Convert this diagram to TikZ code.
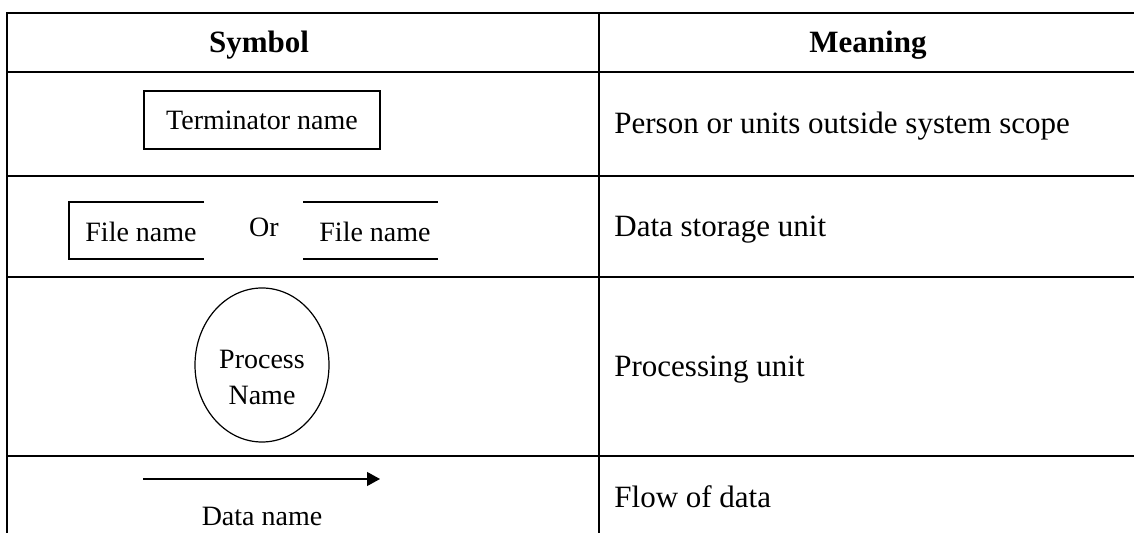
\documentclass[tikz,border=0pt]{standalone}
\usepackage{fontspec}
\setmainfont{Liberation Serif}
\usetikzlibrary{arrows.meta,shapes.geometric,positioning}

\begin{document}
\begin{tikzpicture}[
    x=0.5pt, y=-0.5pt,
    font=\fontsize{14}{18}\selectfont,
    rule/.style={line width=1pt},
    symline/.style={line width=0.6pt},
    headtext/.style={font=\fontsize{15.5}{18}\selectfont\bfseries, anchor=base},
    celltext/.style={font=\fontsize{15.5}{18}\selectfont, anchor=base west, inner sep=0pt},
    symtext/.style={anchor=base, inner sep=0pt}]
    \useasboundingbox (0,0) rectangle (1134,533);
    % TABLE LINES
    \foreach \y in {13,72,176,277,456}
        \draw[rule] (6.5,\y) -- (1134,\y);
    \draw[rule] (7,12.5) -- (7,533);
    \draw[rule] (599,12.5) -- (599,533);

    % HEADER
    \node[headtext] (sym) at (259,53) {Symbol};
    \node[headtext] (mean) at (868,53) {Meaning};

    % ROW 1: terminator
    \node[draw, symline, minimum width=118pt, minimum height=29pt] (term) at (262,120) {Terminator name};
    \node[celltext] (m1) at (614,134) {Person or units outside system scope};

    % ROW 2: file store
    \node[symtext] (file1) at (141,242) {File name};
    \draw[symline] (204,202) -| (69,259) -- (204,259);
    \node[symtext] (or) at (264,237) {Or};
    \node[symtext] (file2) at (375,242) {File name};
    \draw[symline] (303,202) -- (438,202);
    \draw[symline] (303,259) -- (438,259);
    \node[celltext] (m2) at (614,237) {Data storage unit};

    % ROW 3: process
    \node[draw, symline, ellipse, minimum width=67pt, minimum height=77pt, inner sep=0pt] (proc) at (262,365) {};
    \node[align=center, inner sep=0pt] (pname) at (262,377) {Process\\Name};
    \node[celltext] (m3) at (614,377) {Processing unit};

    % ROW 4: data flow
    \coordinate (flowa) at (143,479);
    \coordinate (flowb) at (380,479);
    \draw[symline, -{Triangle[length=6.5pt,width=7pt]}] (flowa) -- (flowb);
    \node[symtext] (dname) at (262,525) {Data name};
    \node[celltext] (m4) at (614,508) {Flow of data};
\end{tikzpicture}
\end{document}
